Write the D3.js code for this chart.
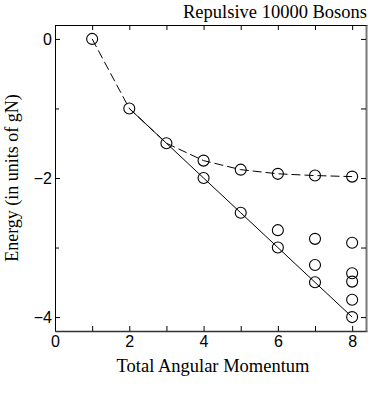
<!DOCTYPE html>
<html>
<head>
<meta charset="utf-8">
<script src="https://cdn.jsdelivr.net/npm/d3@7"></script>
<style>
  body { margin: 0; background: #fff; }
  svg { display: block; }
</style>
</head>
<body>
<svg width="370" height="412"></svg>
<script>
const W = 370, H = 412;
const M = {left: 55, right: 3, top: 25, bottom: 81};

// upper branch (dashed)
const dashedL = [1, 2, 3, 4, 5, 6, 7, 8];
const dashedE = [0, -1, -1.5, -1.75, -1.88, -1.94, -1.965, -1.98];
// yrast line (solid)
const solidL = [2, 3, 4, 5, 6, 7, 8];
const solidE = [-1, -1.5, -2, -2.5, -3, -3.5, -4];
// other excited states
const extraL = [6, 7, 7, 8, 8, 8, 8];
const extraE = [-2.75, -2.875, -3.25, -2.93, -3.37, -3.49, -3.75];

const xTicks = [0, 2, 4, 6, 8];
const xMinor = [1, 3, 5, 7];
const yTicks = [0, -2, -4];
const yMinor = [-1, -3];

const svg = d3.select("svg");

const x = d3.scaleLinear().domain([0, 8.4]).range([M.left, W - M.right]);
const y = d3.scaleLinear().domain([-4.2, 0.2]).range([H - M.bottom, M.top]);

// axes with inward ticks
function tickFont(g){
  g.selectAll("text")
    .attr("font-family", "Liberation Sans, Arial, sans-serif")
    .attr("font-size", 16)
    .attr("fill", "#000");
  g.selectAll("line").attr("stroke", "#000");
}

svg.append("g")
  .attr("transform", `translate(0,${y(-4.2)})`)
  .call(d3.axisBottom(x).tickValues(xTicks).tickSizeInner(-5).tickSizeOuter(0).tickPadding(5)
    .tickFormat(d3.format("d")))
  .call(g => g.select(".domain").attr("stroke", "#333").attr("stroke-width", 1.5))
  .call(tickFont);

svg.append("g")
  .attr("transform", `translate(0,${y(-4.2)})`)
  .call(d3.axisBottom(x).tickValues(xMinor).tickSizeInner(-5).tickSizeOuter(0).tickFormat(""))
  .call(g => g.select(".domain").remove())
  .call(tickFont);

svg.append("g")
  .attr("transform", `translate(${x(0)},0)`)
  .call(d3.axisLeft(y).tickValues(yTicks).tickSizeInner(-5).tickSizeOuter(0).tickPadding(3)
    .tickFormat(d => d < 0 ? "\u2212" + Math.abs(d) : d))
  .call(g => g.select(".domain").attr("stroke", "#000"))
  .call(tickFont);

svg.append("g")
  .attr("transform", `translate(${x(0)},0)`)
  .call(d3.axisLeft(y).tickValues(yMinor).tickSizeInner(-4).tickSizeOuter(0).tickFormat(""))
  .call(g => g.select(".domain").remove())
  .call(tickFont);

// top and right frame
svg.append("g")
  .attr("transform", `translate(0,${y(0.2)})`)
  .call(d3.axisTop(x).tickValues(xTicks.concat(xMinor)).tickSizeInner(-5).tickSizeOuter(0).tickFormat(""))
  .call(g => g.select(".domain").attr("stroke", "#000"))
  .call(tickFont);

svg.append("g")
  .attr("transform", `translate(${x(8.4) - 1},0)`)
  .call(d3.axisRight(y).tickValues(yTicks.concat(yMinor)).tickSizeInner(-5).tickSizeOuter(0).tickFormat(""))
  .call(g => g.select(".domain").attr("stroke", "#777").attr("stroke-width", 2))
  .call(tickFont);

// lines
const line = d3.line().x(d => x(d[0])).y(d => y(d[1]));

svg.append("path")
  .datum(d3.zip(dashedL, dashedE))
  .attr("d", line)
  .attr("fill", "none")
  .attr("stroke", "#000")
  .attr("stroke-width", 1)
  .attr("stroke-dasharray", "9,4");

svg.append("path")
  .datum(d3.zip(solidL, solidE))
  .attr("d", line)
  .attr("fill", "none")
  .attr("stroke", "#000")
  .attr("stroke-width", 1);

// markers
const pts = d3.zip(dashedL, dashedE)
  .concat(d3.zip(solidL, solidE).slice(2))
  .concat(d3.zip(extraL, extraE));

svg.append("g")
  .selectAll("circle")
  .data(pts)
  .join("circle")
  .attr("cx", d => x(d[0]))
  .attr("cy", d => y(d[1]))
  .attr("r", 5.5)
  .attr("fill", "none")
  .attr("stroke", "#000")
  .attr("stroke-width", 1.1);

// texts
const serif = "Liberation Serif, Times New Roman, serif";

svg.append("text")
  .attr("x", 367).attr("y", 18)
  .attr("text-anchor", "end")
  .attr("font-family", serif)
  .attr("font-size", 18.5)
  .text("Repulsive 10000 Bosons");

svg.append("text")
  .attr("x", 213).attr("y", 372)
  .attr("text-anchor", "middle")
  .attr("font-family", serif)
  .attr("font-size", 18.5)
  .text("Total Angular Momentum");

svg.append("text")
  .attr("transform", `translate(18,${y(-2)}) rotate(-90)`)
  .attr("text-anchor", "middle")
  .attr("font-family", serif)
  .attr("font-size", 18)
  .text("Energy (in units of gN)");
</script>
</body>
</html>
